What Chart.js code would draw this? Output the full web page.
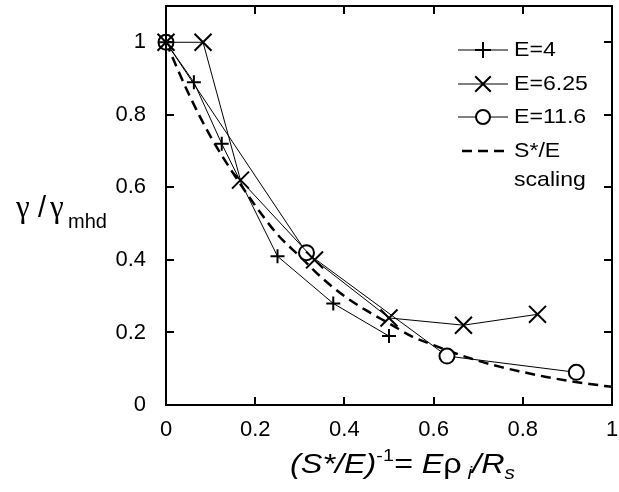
<!DOCTYPE html>
<html>
<head>
<meta charset="utf-8">
<script src="https://cdn.jsdelivr.net/npm/chart.js@4.4.0/dist/chart.umd.min.js"></script>
<style>
    html, body { margin: 0; padding: 0; background: #fff; }
    #wrap { width: 619px; height: 492px; }
</style>
</head>
<body>
<div id="wrap"><canvas id="growthChart" width="619" height="492"></canvas></div>
<script>
// Values
const xTicks = [0, 0.2, 0.4, 0.6, 0.8, 1];
const yTicks = [0, 0.2, 0.4, 0.6, 0.8, 1];
const tickLabels = ['0', '0.2', '0.4', '0.6', '0.8', '1'];

const e4X = [0, 0.0625, 0.125, 0.25, 0.375, 0.5];
const e4Y = [1, 0.89, 0.72, 0.41, 0.28, 0.19];

const e625X = [0, 0.083, 0.167, 0.333, 0.5, 0.667, 0.833];
const e625Y = [1, 1, 0.62, 0.40, 0.24, 0.22, 0.25];

const e116X = [0, 0.315, 0.63, 0.92];
const e116Y = [1, 0.42, 0.135, 0.09];

// dashed S*/E scaling curve, read at a few points
const scalingX = [0, 0.05, 0.1, 0.15, 0.2, 0.25, 0.3, 0.35, 0.4, 0.45, 0.5, 0.55, 0.6, 0.65, 0.7, 0.75, 0.8, 0.85, 0.9, 0.95, 1];
const scalingY = [1, 0.86, 0.74, 0.64, 0.55, 0.47, 0.41, 0.35, 0.30, 0.26, 0.225, 0.19, 0.165, 0.142, 0.122, 0.105, 0.091, 0.078, 0.067, 0.058, 0.05];

const legendLabels = ['E=4', 'E=6.25', 'E=11.6', 'S*/E', 'scaling'];

const FONT = '"Liberation Sans", Arial, sans-serif';
const GREEK = '"Liberation Serif", "Times New Roman", serif';

function toPoints(xs, ys) {
    return xs.map((x, i) => ({ x: x, y: ys[i] }));
}

// text stretched a little sideways, like the original figure's font
function wideText(ctx, text, x, y, sx) {
    ctx.save();
    ctx.translate(x, y);
    ctx.scale(sx, 1);
    ctx.fillText(text, 0, 0);
    ctx.restore();
}

// Frame, inward ticks, legend and axis titles
const decorPlugin = {
    id: 'decor',
    afterDraw(chart) {
        const ctx = chart.ctx;
        const area = chart.chartArea;
        const xs = chart.scales.x;
        const ys = chart.scales.y;

        ctx.save();
        ctx.strokeStyle = '#000';
        ctx.lineWidth = 2;
        ctx.setLineDash([]);
        ctx.strokeRect(area.left, area.top, area.right - area.left, area.bottom - area.top);

        // inward tick marks on all four sides
        const tl = 8;
        ctx.beginPath();
        xTicks.forEach(v => {
            const px = Math.round(xs.getPixelForValue(v));
            ctx.moveTo(px, area.bottom);
            ctx.lineTo(px, area.bottom - tl);
            ctx.moveTo(px, area.top);
            ctx.lineTo(px, area.top + tl);
        });
        yTicks.forEach(v => {
            const py = Math.round(ys.getPixelForValue(v));
            ctx.moveTo(area.left, py);
            ctx.lineTo(area.left + tl, py);
            ctx.moveTo(area.right, py);
            ctx.lineTo(area.right - tl, py);
        });
        ctx.stroke();

        // legend
        const lx0 = 458, lx1 = 508, tx = 514;
        const rows = [50, 84, 117, 151];
        ctx.fillStyle = '#000';
        ctx.font = '21px ' + FONT;
        ctx.textBaseline = 'middle';
        ctx.textAlign = 'left';
        chart.data.datasets.forEach((ds, i) => {
            const y = rows[i];
            ctx.beginPath();
            ctx.lineWidth = ds.borderWidth;
            ctx.setLineDash(ds.borderDash || []);
            ctx.moveTo(i === 3 ? 462 : lx0, y);
            ctx.lineTo(lx1, y);
            ctx.stroke();
            ctx.setLineDash([]);
            if (ds.pointStyle && ds.pointRadius > 0) {
                ctx.strokeStyle = '#000';
                ctx.fillStyle = '#fff';
                ctx.lineWidth = 2;
                Chart.helpers.drawPoint(ctx, {
                    pointStyle: ds.pointStyle,
                    radius: ds.legendRadius,
                    borderWidth: 2
                }, (lx0 + lx1) / 2, y);
            }
            ctx.fillStyle = '#000';
            wideText(ctx, legendLabels[i], tx, y, 1.1);
        });
        wideText(ctx, legendLabels[4], tx, 180, 1.1);

        // x axis title: (S*/E)^-1 = E rho_i / R_s
        const parts = [
            { t: '(S*/E)', f: 'italic 28px ' + FONT, dy: 0 },
            { t: '-1', f: '17px ' + FONT, dy: -12 },
            { t: '= ', f: 'italic 28px ' + FONT, dy: 0 },
            { t: 'E', f: 'italic 28px ' + FONT, dy: 0 },
            { t: 'ρ', f: '28px ' + FONT, dy: 0 },
            { t: ' i', f: 'italic 18px ' + FONT, dy: 6 },
            { t: '/R', f: 'italic 28px ' + FONT, dy: 0 },
            { t: 's', f: 'italic 18px ' + FONT, dy: 6 }
        ];
        ctx.textBaseline = 'alphabetic';
        let total = 0;
        parts.forEach(p => { ctx.font = p.f; total += ctx.measureText(p.t).width; });
        const sx = 225 / total;
        let x = 290;
        const base = 473;
        parts.forEach(p => {
            ctx.font = p.f;
            wideText(ctx, p.t, x, base + p.dy, sx);
            x += ctx.measureText(p.t).width * sx;
        });

        // y axis title: gamma / gamma_mhd
        ctx.font = '31px ' + GREEK;
        ctx.fillText('γ', 16, 217);
        ctx.font = '29px ' + FONT;
        ctx.fillText('/', 38, 217);
        ctx.font = '31px ' + GREEK;
        ctx.fillText('γ', 50, 217);
        ctx.font = '20px ' + FONT;
        ctx.fillText('mhd', 68, 228);
        ctx.restore();
    }
};

const lineCommon = {
    showLine: true,
    borderColor: '#000',
    borderWidth: 1,
    pointBorderColor: '#000',
    pointBackgroundColor: '#fff',
    pointBorderWidth: 2,
    tension: 0,
    clip: false
};

new Chart(document.getElementById('growthChart'), {
    type: 'scatter',
    data: {
        datasets: [
            Object.assign({}, lineCommon, {
                label: 'E=4',
                data: toPoints(e4X, e4Y),
                pointStyle: 'cross',
                pointRadius: 7,
                legendRadius: 8
            }),
            Object.assign({}, lineCommon, {
                label: 'E=6.25',
                data: toPoints(e625X, e625Y),
                pointStyle: 'crossRot',
                pointRadius: 12,
                legendRadius: 11
            }),
            Object.assign({}, lineCommon, {
                label: 'E=11.6',
                data: toPoints(e116X, e116Y),
                pointStyle: 'circle',
                pointRadius: 7.5,
                legendRadius: 7
            }),
            {
                label: 'S*/E scaling',
                data: toPoints(scalingX, scalingY),
                showLine: true,
                borderColor: '#000',
                borderWidth: 2.5,
                borderDash: [10, 6],
                pointRadius: 0,
                cubicInterpolationMode: 'monotone',
                clip: false
            }
        ]
    },
    options: {
        responsive: false,
        animation: false,
        devicePixelRatio: 1,
        layout: {
            autoPadding: false,
            padding: { top: 6, right: 7, left: 0, bottom: 0 }
        },
        plugins: {
            legend: { display: false },
            tooltip: { enabled: false }
        },
        scales: {
            x: {
                type: 'linear',
                min: 0,
                max: 1,
                afterBuildTicks: s => { s.ticks = xTicks.map(v => ({ value: v })); },
                afterFit: s => {
                    s.height = 87;
                    s.paddingLeft = 0;
                    s.paddingRight = 0;
                },
                grid: { display: false },
                border: { display: true, color: '#000', width: 2 },
                ticks: {
                    color: '#000',
                    font: { family: FONT, size: 22 },
                    padding: 4,
                    maxRotation: 0,
                    autoSkip: false,
                    callback: v => tickLabels[xTicks.indexOf(v)]
                }
            },
            y: {
                type: 'linear',
                min: 0,
                max: 1.1,
                afterBuildTicks: s => { s.ticks = yTicks.map(v => ({ value: v })); },
                afterFit: s => {
                    s.width = 166;
                    s.paddingTop = 0;
                    s.paddingBottom = 0;
                },
                grid: { display: false },
                border: { display: true, color: '#000', width: 2 },
                ticks: {
                    color: '#000',
                    font: { family: FONT, size: 22 },
                    padding: 12,
                    autoSkip: false,
                    callback: v => tickLabels[yTicks.indexOf(v)]
                }
            }
        }
    },
    plugins: [decorPlugin]
});
</script>
</body>
</html>
